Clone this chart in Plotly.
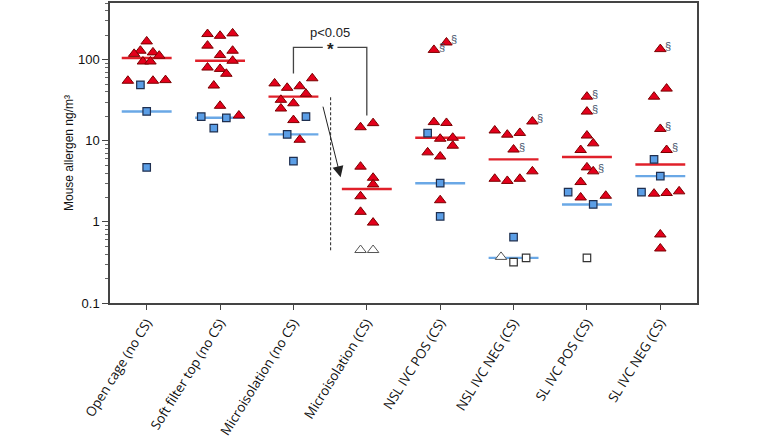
import math
import plotly.graph_objects as go

# ---------------- data ----------------
categories = ["Open cage (no CS)", "Soft filter top (no CS)", "Microisolation (no CS)",
              "Microisolation (CS)", "NSL IVC POS (CS)", "NSL IVC NEG (CS)",
              "SL IVC POS (CS)", "SL IVC NEG (CS)"]

# filled red triangles (values in ng/m3)
tri_vals = [
    [168, 129, 118, 123, 112, 95, 95, 55, 55, 56],
    [207, 197, 211, 149, 129, 114, 97, 80, 77, 67, 48, 27, 20.5],
    [51, 45, 47, 59, 38, 32, 25, 29, 18, 10.3],
    [14.7, 16.5, 4.8, 3.5, 2.9, 2.07, 1.33, 0.98],
    [132, 163, 17, 16.6, 10.6, 10.9, 8.7, 7.2, 6.4, 1.85],
    [17.3, 13.4, 11.9, 12.5, 7.8, 3.4, 3.2, 3.4, 4.2],
    [35, 22.9, 11.6, 9.3, 7.7, 4.7, 4.2, 3.1, 2.0, 2.1],
    [135, 35, 44, 14, 7.7, 2.23, 2.27, 2.38, 0.70, 0.47],
]
# filled blue squares
sq_vals = [
    [49, 23, 4.7],
    [19.9, 19.2, 14.3],
    [19.9, 12, 5.6],
    [],
    [12.4, 3.0, 1.17],
    [0.65],
    [2.33, 1.64],
    [5.9, 3.67, 2.33],
]
# open (below detection) triangles and squares
open_tri_vals = [[], [], [], [0.45, 0.45], [], [0.37], [], []]
open_sq_vals = [[], [], [], [], [], [0.32, 0.36], [0.36], []]

# medians (triangles = red line, squares = blue line)
red_median = [105, 97, 35, 2.54, 10.9, 5.9, 6.3, 5.1]
blue_median = [23, 19.2, 12, None, 3.0, 0.36, 1.64, 3.67]

# triangles marked with a section sign (category index, value)
section_marks = [(4, 132), (4, 163), (5, 17.3), (5, 7.8), (6, 35), (6, 22.9), (6, 4.2),
                 (7, 135), (7, 14), (7, 7.7)]

# ---------------- jitter (layout only, in slot units) ----------------
tri_slots = [
    [0, -1, -2, 1, 2, -0.6, 0.6, -3, 1, 3],
    [-2, 0, 2, -2, 2, 0, 2, -2, 0, 1, -1, 0, 3],
    [-3, -1, 1, 3, 2, -2, -2, 0, 0, 1],
    [-1, 1, -1, 1, 1, -1, -1, 1],
    [-1, 1, -1, 1, 0, 2, 2, -2, 0, 0],
    [3, -3, -1, 1, 0, -3, -1, 1, 3],
    [0, 0, 0, 1, -1, 0, 1, -1, -1, 3],
    [0, -1, 1, 0, 1, -1, 1, 3, 0, 0],
]
sq_slots = [[-1, 0, 0], [-3, 1, -1], [2, -1, 0], [], [-2, 0, 0], [0], [-3, 1], [-1, 0, -3]]
open_tri_slots = [[], [], [], [-1, 1], [], [-2], [], []]
open_sq_slots = [[], [], [], [], [], [0, 2], [0], []]
SLOT = 0.0855
HALF = 0.34

RED = "#e3001b"
RED_EDGE = "#7a0000"
BLUE = "#5b9ee6"
BLUE_EDGE = "#1f2f4f"
RED_LINE = "#e0202a"
BLUE_LINE = "#6aa8e6"


def pts(vals, slots):
    xs, ys = [], []
    for i, (vs, ss) in enumerate(zip(vals, slots)):
        for v, s in zip(vs, ss):
            xs.append(i + s * SLOT)
            ys.append(v)
    return xs, ys


def med_line(meds):
    xs, ys = [], []
    for i, m in enumerate(meds):
        if m is None:
            continue
        xs += [i - HALF, i + HALF, None]
        ys += [m, m, None]
    return xs, ys


fig = go.Figure()

mx, my = med_line(blue_median)
fig.add_trace(go.Scatter(x=mx, y=my, mode="lines", line=dict(color=BLUE_LINE, width=2.4),
                         hoverinfo="skip", showlegend=False))
mx, my = med_line(red_median)
fig.add_trace(go.Scatter(x=mx, y=my, mode="lines", line=dict(color=RED_LINE, width=2.4),
                         hoverinfo="skip", showlegend=False))

x, y = pts(sq_vals, sq_slots)
fig.add_trace(go.Scatter(x=x, y=y, mode="markers", showlegend=False,
                         marker=dict(symbol="square", size=7.5, color=BLUE,
                                     line=dict(color=BLUE_EDGE, width=1.2))))
x, y = pts(open_sq_vals, open_sq_slots)
fig.add_trace(go.Scatter(x=x, y=y, mode="markers", showlegend=False,
                         marker=dict(symbol="square", size=7.5, color="white",
                                     line=dict(color="#333333", width=1.2))))
x, y = pts(tri_vals, tri_slots)
fig.add_trace(go.Scatter(x=x, y=y, mode="markers", showlegend=False,
                         marker=dict(symbol="triangle-up", size=10, color=RED,
                                     line=dict(color=RED_EDGE, width=1))))
x, y = pts(open_tri_vals, open_tri_slots)
fig.add_trace(go.Scatter(x=x, y=y, mode="markers", showlegend=False,
                         marker=dict(symbol="triangle-up", size=10, color="white",
                                     line=dict(color="#555555", width=1))))

# significance bracket between groups 2 and 3
fig.add_trace(go.Scatter(x=[2.0, 2.0, 2.4, None, 2.6, 3.0, 3.0],
                         y=[67.8, 141.6, 141.6, None, 141.6, 141.6, 20.5],
                         mode="lines", line=dict(color="#444444", width=1.3),
                         hoverinfo="skip", showlegend=False))
# dashed vertical line
fig.add_trace(go.Scatter(x=[2.507, 2.507], y=[34.4, 0.43], mode="lines",
                         line=dict(color="#222222", width=1, dash="3px,2px"),
                         hoverinfo="skip", showlegend=False))

annotations = []
# section signs
tri_lookup = {}
for i, (vs, ss) in enumerate(zip(tri_vals, tri_slots)):
    for v, s in zip(vs, ss):
        tri_lookup[(i, v)] = i + s * SLOT
for (ci, v) in section_marks:
    annotations.append(dict(x=tri_lookup[(ci, v)], y=math.log10(v), text="§", showarrow=False,
                            xshift=8, yshift=3, font=dict(family="Liberation Sans", size=11,
                                                          color="#44506a")))
annotations.append(dict(x=2.5, y=2.34, text="p<0.05", showarrow=False,
                        font=dict(family="Liberation Sans", size=13, color="#222222")))
annotations.append(dict(x=2.5, y=2.13, text="<b>*</b>", showarrow=False,
                        font=dict(family="Liberation Sans", size=17, color="#222222")))
annotations.append(dict(x=2.643, y=math.log10(3.56), ax=-18, ay=-72, text="", showarrow=True,
                        arrowhead=2, arrowsize=2.2, arrowwidth=1, arrowcolor="#222222"))

fig.update_layout(
    width=763, height=443,
    margin=dict(l=110, r=66, t=3, b=140),
    paper_bgcolor="white", plot_bgcolor="white",
    annotations=annotations,
    font=dict(family="Liberation Sans", color="#222222"),
)
fig.update_xaxes(range=[-0.5, 7.5], tickvals=list(range(len(categories))), ticktext=categories,
                 tickangle=-58, ticks="outside", ticklen=5, tickcolor="#444444",
                 showline=True, linecolor="#444444", linewidth=1.5, mirror=True,
                 showgrid=False, zeroline=False, automargin=False,
                 tickfont=dict(family="Open Sans", size=13.3, color="#111111"))
fig.update_yaxes(type="log", range=[-1, math.log10(500)],
                 tickvals=[0.1, 1, 10, 100], ticktext=["0.1", "1", "10", "100"],
                 ticks="outside", ticklen=6, tickcolor="#444444",
                 minor=dict(ticks="outside", ticklen=3, tickcolor="#666666", dtick="D1"),
                 showline=True, linecolor="#444444", linewidth=1.5, mirror=True,
                 showgrid=False, zeroline=False, automargin=False,
                 tickfont=dict(family="Liberation Sans", size=13, color="#111111"),
                 title=dict(text="Mouse allergen ng/m³", standoff=2,
                            font=dict(family="Liberation Sans", size=12, color="#111111")))

fig.write_html("out.html", config={"displayModeBar": False},
               post_script="document.body.style.margin='0px';")
